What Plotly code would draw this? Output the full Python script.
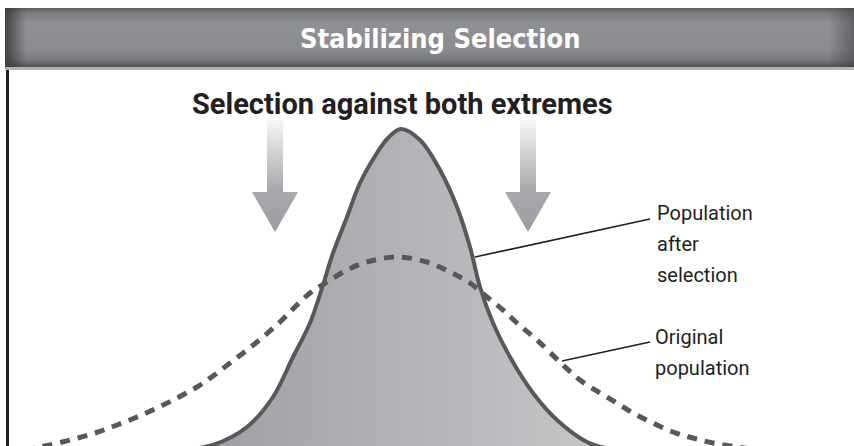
import plotly.graph_objects as go

# ---- data (trait value vs. number of individuals) ----
after_x = [190, 213, 247, 273, 293, 310, 323, 333, 347, 360, 377, 388, 401,
           420, 440, 457, 470, 480, 493, 510, 533, 557, 587, 610]
after_y = [-3, 1, 19, 49, 89, 123, 161, 193, 229, 263, 293, 308, 317,
           306, 276, 239, 199, 159, 123, 89, 53, 26, 4, -3]

orig_x = [25, 40, 58, 78, 98, 117, 137, 157, 177, 197, 213, 230, 247, 263, 280,
          295, 310, 327, 347, 367, 397, 427, 450, 470, 487, 503, 517, 537, 563,
          580, 600, 617, 633, 653, 673, 693, 713, 737, 760, 790]
orig_y = [-4, -1, 3, 8, 14, 21, 29, 38, 48, 59, 70, 83, 96, 109, 124,
          139, 153, 164, 176, 184, 189, 184, 174, 163, 149, 136, 123, 106, 81,
          66, 53, 43, 33, 23, 14, 8, 3, -1, -4, -8]

title_text = "Stabilizing Selection"
subtitle_text = "Selection against both extremes"
label_after = ["Population", "after", "selection"]
label_orig = ["Original", "population"]

# ---- styling / layout constants ----
W, H = 854, 446
LINE = "#58585b"
INK = "#231f20"

fig = go.Figure()

# filled population after selection
fig.add_trace(go.Scatter(
    x=after_x, y=after_y, mode="lines", line=dict(color="rgba(0,0,0,0)", width=0, shape="spline"),
    fill="tozeroy",
    fillgradient=dict(type="horizontal", colorscale=[[0, "#9d9ea1"], [1, "#c6c7c9"]]),
    hoverinfo="skip", showlegend=False))

# original population (dashed)
fig.add_trace(go.Scatter(
    x=orig_x, y=orig_y, mode="lines",
    line=dict(color=LINE, width=5, dash="10px,8px", shape="spline"),
    hoverinfo="skip", showlegend=False))

# outline of population after selection
fig.add_trace(go.Scatter(
    x=after_x, y=after_y, mode="lines",
    line=dict(color=LINE, width=4, shape="spline"),
    hoverinfo="skip", showlegend=False))

# selection arrows (decorative)
arrow_centers = [275, 528]
shaft_half, head_half = 8, 23
shaft_top, head_top, tip = 326, 254, 214
for c in arrow_centers:
    fig.add_trace(go.Scatter(
        x=[c - shaft_half, c + shaft_half, c + shaft_half, c - shaft_half, c - shaft_half],
        y=[head_top - 1, head_top - 1, shaft_top, shaft_top, head_top - 1],
        mode="lines", line=dict(width=0, color="rgba(0,0,0,0)"), fill="toself",
        fillgradient=dict(type="vertical", colorscale=[[0, "#a3a4a7"], [1, "#f7f7f8"]]),
        hoverinfo="skip", showlegend=False))
    fig.add_trace(go.Scatter(
        x=[c - head_half, c + head_half, c, c - head_half],
        y=[head_top, head_top, tip, head_top],
        mode="lines", line=dict(width=0, color="rgba(0,0,0,0)"), fill="toself",
        fillgradient=dict(type="vertical", colorscale=[[0, "#9a9b9e"], [1, "#a9aaad"]]),
        hoverinfo="skip", showlegend=False))

# header bar on its own axes
hx = [5, W, W, 5, 5]
hy = [0, 0, 1, 1, 0]
fig.add_trace(go.Scatter(
    x=hx, y=hy, xaxis="x2", yaxis="y2", mode="lines",
    line=dict(width=0, color="rgba(0,0,0,0)"), fill="toself",
    fillgradient=dict(type="vertical", colorscale=[
        [0, "#505154"], [0.12, "#78797c"], [0.3, "#8b8c8f"], [0.75, "#8f9093"],
        [0.92, "#7a7b7e"], [1, "#5d5e61"]]),
    hoverinfo="skip", showlegend=False))
fig.add_trace(go.Scatter(
    x=hx, y=hy, xaxis="x2", yaxis="y2", mode="lines",
    line=dict(width=0, color="rgba(0,0,0,0)"), fill="toself",
    fillgradient=dict(type="horizontal", colorscale=[
        [0, "rgba(55,55,58,0.85)"], [0.025, "rgba(55,55,58,0)"],
        [0.97, "rgba(55,55,58,0)"], [1, "rgba(55,55,58,0.5)"]]),
    hoverinfo="skip", showlegend=False))

shapes = [
    dict(type="rect", xref="paper", yref="paper", x0=5 / W, x1=1,
         y0=(H - 70) / H, y1=(H - 67) / H, fillcolor="#b3b4b6", line=dict(width=0)),
    # leader lines
    dict(type="line", xref="x", yref="y", x0=475, y0=H - 257, x1=650, y1=H - 219,
         line=dict(color=INK, width=1.6)),
    dict(type="line", xref="x", yref="y", x0=562, y0=H - 361, x1=650, y1=H - 342,
         line=dict(color=INK, width=1.6)),
]

annotations = [
    dict(text=title_text, xref="paper", yref="paper", x=440 / W, y=(H - 38) / H,
         showarrow=False, xanchor="center", yanchor="middle",
         font=dict(family="Liberation Sans Narrow, DejaVu Sans Condensed, Roboto", size=27,
                   color="white", weight="bold")),
    dict(text=subtitle_text, xref="x", yref="y", x=402, y=H - 104,
         showarrow=False, xanchor="center", yanchor="middle",
         font=dict(family="Roboto, Open Sans, sans-serif", size=29, color=INK, weight="bold")),
]
for i, t in enumerate(label_after):
    annotations.append(dict(text=t, xref="x", yref="y", x=655, y=H - (213 + 31 * i),
                            showarrow=False, xanchor="left", yanchor="middle",
                            font=dict(family="Liberation Sans Narrow, Roboto", size=20, color=INK)))
for i, t in enumerate(label_orig):
    annotations.append(dict(text=t, xref="x", yref="y", x=653, y=H - (337 + 31 * i),
                            showarrow=False, xanchor="left", yanchor="middle",
                            font=dict(family="Liberation Sans Narrow, Roboto", size=20, color=INK)))

fig.update_layout(
    width=W, height=H, margin=dict(l=0, r=0, t=0, b=0),
    paper_bgcolor="white", plot_bgcolor="rgba(0,0,0,0)",
    xaxis=dict(domain=[9 / W, 1], range=[9, W], visible=False, fixedrange=True),
    yaxis=dict(domain=[0, (H - 70) / H], range=[0, H - 70], showline=True,
               linecolor=INK, linewidth=3, showgrid=False, zeroline=False,
               showticklabels=False, ticks="", fixedrange=True),
    xaxis2=dict(domain=[0, 1], range=[0, W], visible=False, anchor="y2", fixedrange=True),
    yaxis2=dict(domain=[(H - 67) / H, (H - 8) / H], range=[0, 1], visible=False,
                anchor="x2", fixedrange=True),
    shapes=shapes, annotations=annotations, showlegend=False,
)

fig.write_html("out.html", config={"displayModeBar": False},
               post_script="document.body.style.margin='0';document.body.style.overflow='hidden';")
